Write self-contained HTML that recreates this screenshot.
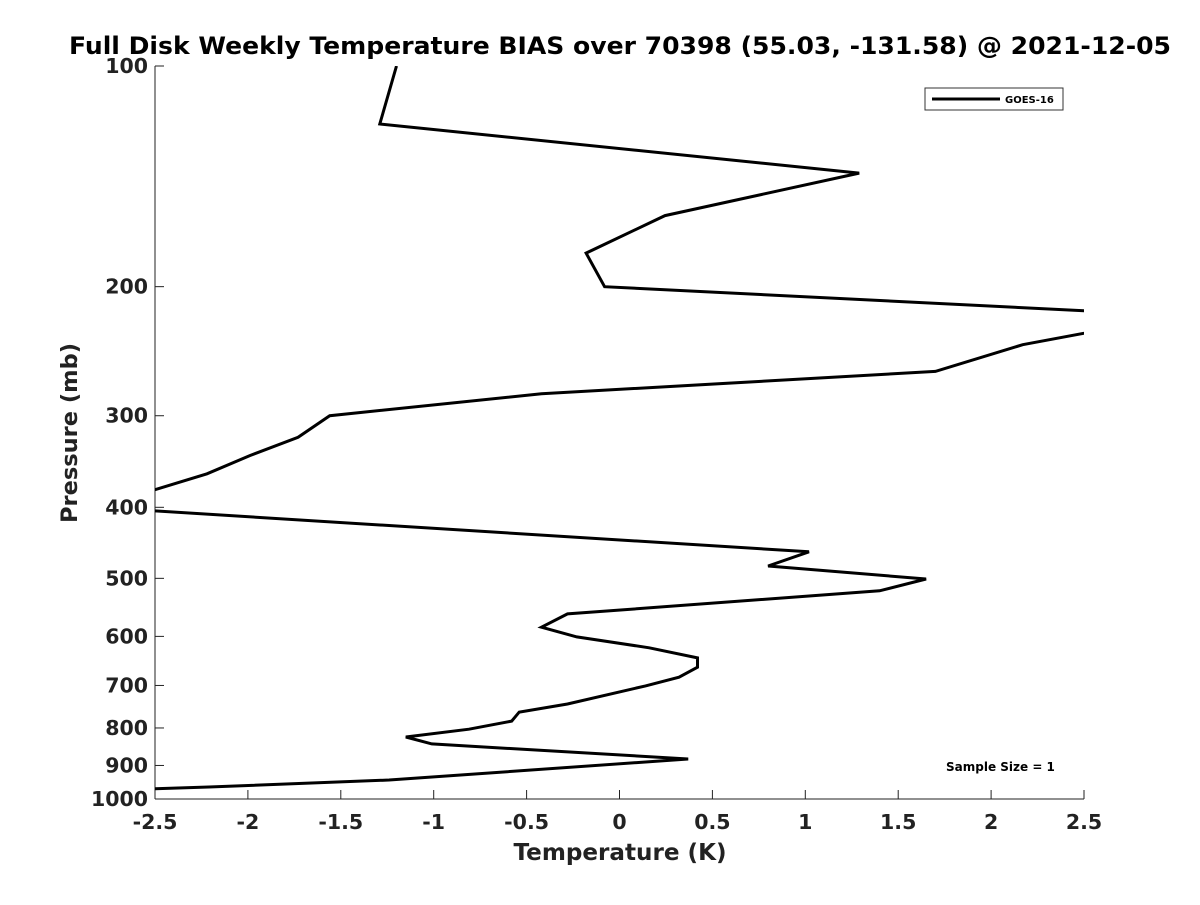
<!DOCTYPE html>
<html><head><meta charset="utf-8"><style>
html,body{margin:0;padding:0;background:#fff;}
svg text{font-family:"DejaVu Sans","Liberation Sans",sans-serif;font-weight:bold;fill:#222;}
</style></head><body>
<svg id="chart" width="1200" height="900" viewBox="0 0 1200 900" xmlns="http://www.w3.org/2000/svg">
<defs><clipPath id="plotclip"><rect x="155" y="66" width="929" height="733"/></clipPath></defs>
<rect width="1200" height="900" fill="#fff"/>
<text x="620" y="54" text-anchor="middle" font-size="24" textLength="1102" lengthAdjust="spacingAndGlyphs" style="fill:#000">Full Disk Weekly Temperature BIAS over 70398 (55.03, -131.58) @ 2021-12-05</text>
<g id="axes"></g>
<g id="series" clip-path="url(#plotclip)"></g>
<g>
<rect x="925" y="88" width="138" height="22" fill="#fff" stroke="#333" stroke-width="1"/>
<line x1="932" y1="99" x2="1000" y2="99" stroke="#000" stroke-width="3"/>
<text x="1005" y="103" font-size="10" style="fill:#000">GOES-16</text>
</g>
<text x="946" y="771" font-size="12" style="fill:#000">Sample Size = 1</text>
<text x="620" y="860" text-anchor="middle" font-size="23" textLength="213" lengthAdjust="spacingAndGlyphs">Temperature (K)</text>
<text transform="translate(77,433) rotate(-90)" text-anchor="middle" font-size="22" textLength="180" lengthAdjust="spacingAndGlyphs">Pressure (mb)</text>
</svg>
<script>
const biasValues=[-1.20,-1.29,1.29,0.245,-0.18,-0.08,3.01,2.17,1.70,-0.42,-1.56,-1.73,-1.99,-2.22,-2.81,1.02,0.80,1.65,1.40,-0.28,-0.42,-0.23,0.16,0.42,0.42,0.32,0.14,-0.28,-0.54,-0.58,-0.81,-1.15,-1.01,0.37,-1.24,-2.21,-2.6];
const pressureLevels=[100,120,140,160,180,200,219,240,261,280,300,321,340,360,400,460,481,501,520,559,583,601,622,642,661,682,701,742,761,783,803,823,841,882,942,963,970];
const xTicks=[-2.5,-2,-1.5,-1,-0.5,0,0.5,1,1.5,2,2.5];
const yTicks=[100,200,300,400,500,600,700,800,900,1000];
const NS="http://www.w3.org/2000/svg";
const X0=155,X1=1084,Y0=66,Y1=799;
function xs(v){return X0+(v+2.5)/5*(X1-X0);}
function ys(p){return Y0+(Math.log10(p)-2)*(Y1-Y0);}
function mk(tag,attrs,parent){const e=document.createElementNS(NS,tag);for(const k in attrs)e.setAttribute(k,attrs[k]);parent.appendChild(e);return e;}
const axes=document.getElementById('axes');
const xa=mk('line',{x1:X0,y1:Y1,x2:X1,y2:Y1,stroke:'#222','stroke-width':1},axes);


const ya=mk('line',{x1:X0,y1:Y0,x2:X0,y2:Y1,stroke:'#222','stroke-width':1},axes);


xTicks.forEach(v=>{
 const x=xs(v);
 const t=mk('line',{x1:x,y1:Y1,x2:x,y2:Y1-9,stroke:'#222'},axes);
 
 
 const l=mk('text',{x:x,y:829,'text-anchor':'middle','font-size':20.5},axes);
 l.textContent=String(v);
 
 
});
yTicks.forEach(p=>{
 const y=ys(p);
 const t=mk('line',{x1:X0,y1:y,x2:X0+9,y2:y,stroke:'#222'},axes);
 
 
 const l=mk('text',{x:148,y:y+7,'text-anchor':'end','font-size':20.5},axes);
 l.textContent=String(p);
 
 
});
const pts=biasValues.map((v,i)=>xs(v).toFixed(1)+','+ys(pressureLevels[i]).toFixed(1)).join(' ');
const pl=mk('polyline',{points:pts,fill:'none',stroke:'#000','stroke-width':3,'stroke-linejoin':'miter'},document.getElementById('series'));


</script>
</body></html>
